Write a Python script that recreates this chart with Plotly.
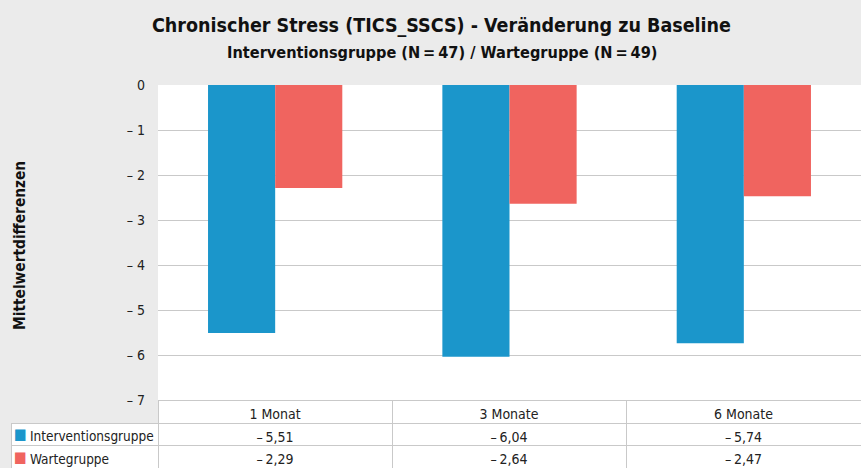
import plotly.graph_objects as go

# data
categories = ["1 Monat", "3 Monate", "6 Monate"]
groups = ["Interventionsgruppe", "Wartegruppe"]
intervention = [-5.51, -6.04, -5.74]
warte = [-2.29, -2.64, -2.47]
tick_vals = [0, -1, -2, -3, -4, -5, -6, -7]
tick_text = ["0", "\u2013 1", "\u2013 2", "\u2013 3", "\u2013 4", "\u2013 5", "\u2013 6", "\u2013 7"]

COLORS = {"Interventionsgruppe": "#1b96cb", "Wartegruppe": "#f0645f"}
BG = "#ebebeb"
GRID = "#c9c9c9"
FONT = "DejaVu Sans Condensed, Roboto, Arial, sans-serif"

W, H = 861, 468
HEADER_H, ROW_H = 23, 22.5
TABLE_H = HEADER_H + 2 * ROW_H


def fmt(v):
    s = f"{abs(v):.2f}".replace(".", ",")
    return ("\u2013\u2009" + s) if v < 0 else s


fig = go.Figure()

for name, vals in zip(groups, [intervention, warte]):
    fig.add_trace(
        go.Bar(
            x=categories,
            y=vals,
            name=name,
            marker=dict(color=COLORS[name], line=dict(width=0)),
            showlegend=False,
        )
    )

# data table under the plot (leading gap leaves room for the colour key)
cell_cols = [["\u2002\u2009\u2009" + g for g in groups]] + [
    [fmt(intervention[i]), fmt(warte[i])] for i in range(len(categories))
]

fig.add_trace(
    go.Table(
        domain=dict(x=[11 / W, 1], y=[0, TABLE_H / H]),
        columnwidth=[147, 234, 234, 235],
        header=dict(
            values=[""] + categories,
            fill_color=["rgba(0,0,0,0)", "white", "white", "white"],
            line=dict(color=["rgba(0,0,0,0)", GRID, GRID, GRID], width=1),
            align="center",
            height=HEADER_H,
            font=dict(family=FONT, size=14, color="#222"),
        ),
        cells=dict(
            values=cell_cols,
            fill_color="white",
            line=dict(color=GRID, width=1),
            align=["left", "center", "center", "center"],
            height=ROW_H,
            font=dict(family=FONT, size=[13.5, 14, 14, 14], color="#222"),
        ),
    )
)

# colour keys in the first table column
keys = []
for i, g in enumerate(groups):
    keys.append(
        dict(
            text="\u25A0",
            x=20.5 / W,
            y=(ROW_H * (1.5 - i)) / H,
            xref="paper", yref="paper",
            xanchor="center", yanchor="middle", showarrow=False,
            font=dict(family=FONT, size=15, color=COLORS[g]),
        )
    )

fig.update_layout(
    width=W,
    height=H,
    margin=dict(l=0, r=0, t=0, b=0, autoexpand=False),
    paper_bgcolor=BG,
    plot_bgcolor="white",
    barmode="group",
    bargap=0.427,
    bargroupgap=0,
    font=dict(family=FONT, color="#222"),
    xaxis=dict(
        domain=[158 / W, 1],
        showticklabels=False,
        showgrid=False,
        zeroline=False,
        automargin=False,
    ),
    yaxis=dict(
        domain=[TABLE_H / H, 1 - 85 / H],
        range=[-7, 0],
        tickvals=tick_vals,
        ticktext=tick_text,
        tickfont=dict(size=14, color="#222"),
        gridcolor=GRID,
        gridwidth=1,
        zeroline=False,
        automargin=False,
        ticklabelstandoff=12,
    ),
    annotations=[
        dict(
            text="<b>Chronischer Stress (TICS_SSCS) - Veränderung zu Baseline</b>",
            x=441.5 / W, y=1 - 25 / H, xref="paper", yref="paper",
            xanchor="center", yanchor="middle", showarrow=False,
            font=dict(family=FONT, size=19.5, color="#111"),
        ),
        dict(
            text="<b>Interventionsgruppe (N\u2009=\u200947) / Wartegruppe (N\u2009=\u200949)</b>",
            x=442 / W, y=1 - 52.5 / H, xref="paper", yref="paper",
            xanchor="center", yanchor="middle", showarrow=False,
            font=dict(family=FONT, size=16.2, color="#111"),
        ),
        dict(
            text="<b>Mittelwertdifferenzen</b>",
            x=20 / W, y=1 - 246 / H, xref="paper", yref="paper",
            xanchor="center", yanchor="middle", showarrow=False,
            textangle=-90,
            font=dict(family=FONT, size=15.3, color="#111"),
        ),
    ] + keys,
)

# the page has a default body margin; drop it so the figure fills the window
fig.write_html(
    "out.html",
    config={"displayModeBar": False},
    post_script="document.body.style.margin='0';document.body.style.overflow='hidden';",
)
